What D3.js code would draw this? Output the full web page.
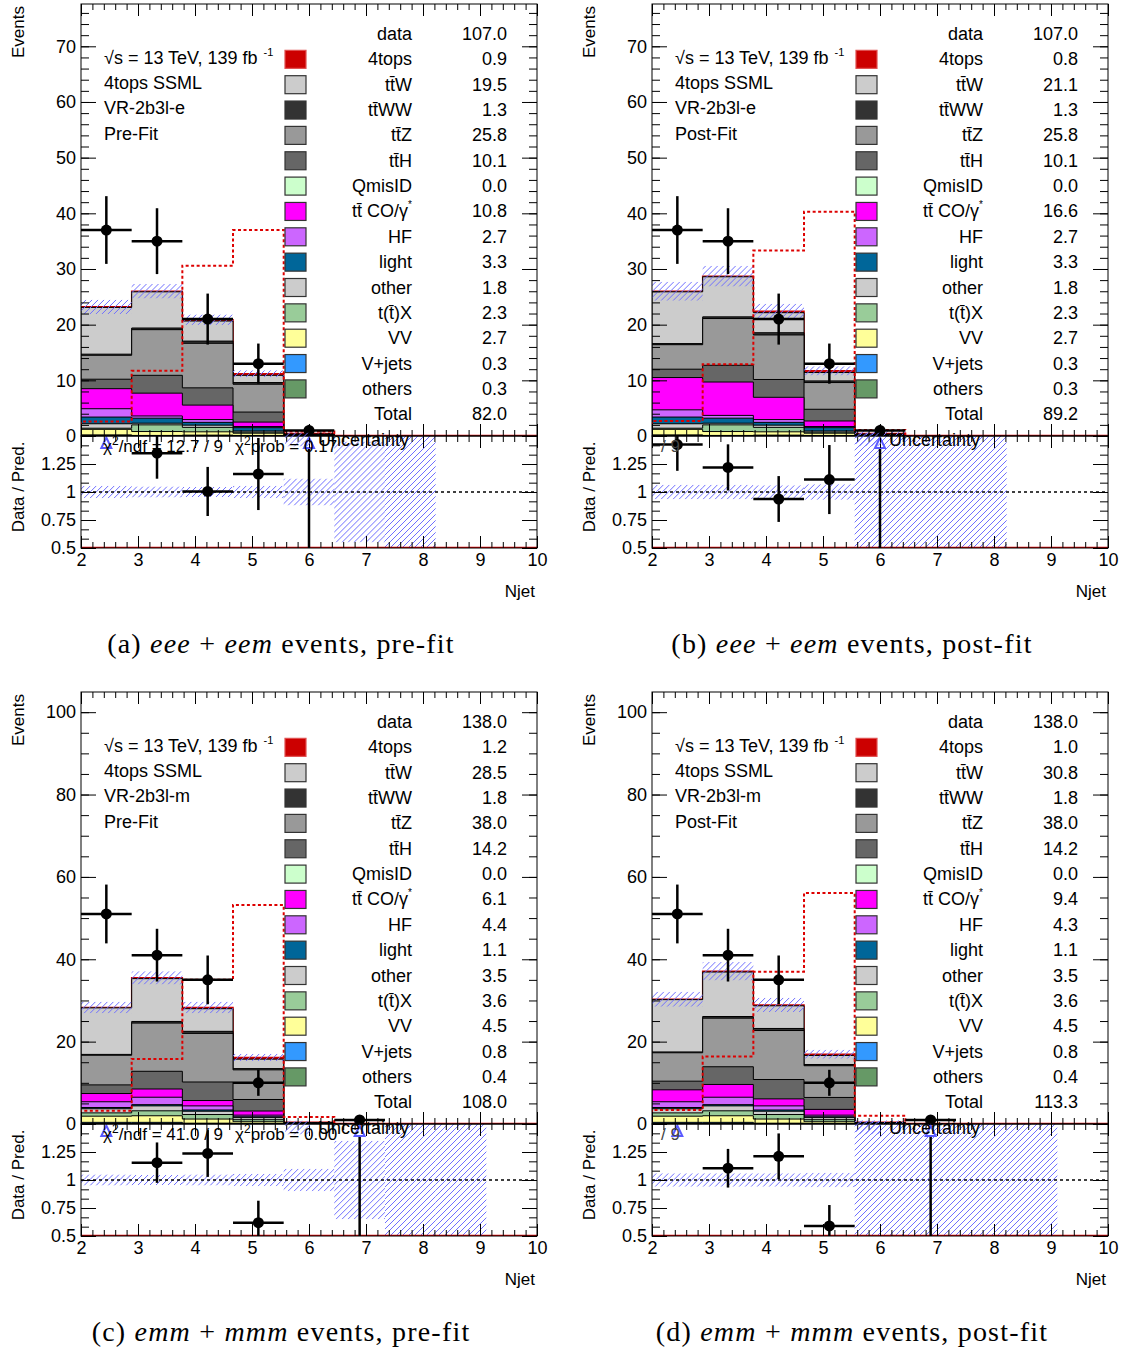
<!DOCTYPE html>
<html>
<head>
<meta charset="utf-8">
<script src="https://cdn.jsdelivr.net/npm/d3@7"></script>
<style>
  body { margin: 0; background: #fff; }
  svg text { font-family: "Liberation Sans", Arial, sans-serif; }
</style>
</head>
<body>
<svg id="fig" width="1127" height="1350"></svg>
<script>
/* Njet binning: 9 bins between 2 and 10 */
const binEdges = [2, 2.889, 3.778, 4.667, 5.556, 6.444, 7.333, 8.222, 9.111, 10];

/* samples, legend order (top of stack first) */
const sampleKeys = ["4tops", "ttW", "ttWW", "ttZ", "ttH", "QmisID", "CO", "HF", "light", "other", "ttX", "VV", "Vjets", "others"];
const sampleLabels = ["4tops", "tt\u0304W", "tt\u0304WW", "tt\u0304Z", "tt\u0304H", "QmisID", "tt\u0304 CO/\u03b3", "HF", "light", "other", "t(t\u0304)X", "VV", "V+jets", "others"];
const sampleColors = {
    "4tops": "#cc0000", ttW: "#cccccc", ttWW: "#333333", ttZ: "#999999", ttH: "#666666",
    QmisID: "#ccffcc", CO: "#ff00ff", HF: "#cc66ff", light: "#006699", other: "#cccccc",
    ttX: "#99cc99", VV: "#ffff99", Vjets: "#3399ff", others: "#669966"
};

/* observed events per bin */
const eeeData = [37, 35, 21, 13, 1, 0, 0, 0, 0];
const mmmData = [51, 41, 35, 10, 0, 1, 0, 0, 0];

/* stacked predictions, rows in sampleKeys order, columns = bins */
const eeePreStack = [
    [0.1, 0.1, 0.25, 0.3, 0.1, 0, 0, 0, 0],
    [8.4, 6.5, 3.6, 1.3, 0.1, 0, 0, 0, 0],
    [0.2, 0.3, 0.4, 0.3, 0.05, 0, 0, 0, 0],
    [4.3, 8.2, 8.0, 5.0, 0.1, 0, 0, 0, 0],
    [1.7, 3.2, 3.1, 1.8, 0.05, 0, 0, 0, 0],
    [0, 0, 0, 0, 0, 0, 0, 0, 0],
    [3.6, 4.1, 2.6, 0.8, 0, 0, 0, 0, 0],
    [1.5, 0.4, 0.5, 0.2, 0, 0, 0, 0, 0],
    [1.2, 0.9, 0.5, 0.6, 0, 0, 0, 0, 0],
    [0.8, 0.3, 0.4, 0.2, 0, 0, 0, 0, 0],
    [0.2, 1.2, 0.8, 0.2, 0, 0, 0, 0, 0],
    [1.0, 0.7, 0.6, 0.4, 0.05, 0, 0, 0, 0],
    [0.1, 0.05, 0.05, 0.05, 0, 0, 0, 0, 0],
    [0.1, 0.05, 0.1, 0.05, 0, 0, 0, 0, 0]
];
const eeePostStack = [
    [0.1, 0.1, 0.25, 0.3, 0.1, 0, 0, 0, 0],
    [9.3, 7.2, 3.6, 1.5, 0.1, 0, 0, 0, 0],
    [0.2, 0.3, 0.4, 0.3, 0.05, 0, 0, 0, 0],
    [4.4, 8.4, 8.0, 4.8, 0.1, 0, 0, 0, 0],
    [1.5, 3.0, 3.2, 2.1, 0.05, 0, 0, 0, 0],
    [0, 0, 0, 0, 0, 0, 0, 0, 0],
    [5.8, 6.0, 4.0, 1.0, 0, 0, 0, 0, 0],
    [1.3, 0.5, 0.5, 0.2, 0, 0, 0, 0, 0],
    [1.2, 0.9, 0.5, 0.6, 0, 0, 0, 0, 0],
    [0.8, 0.3, 0.4, 0.2, 0, 0, 0, 0, 0],
    [0.2, 1.2, 0.8, 0.2, 0, 0, 0, 0, 0],
    [1.0, 0.7, 0.6, 0.4, 0.05, 0, 0, 0, 0],
    [0.1, 0.05, 0.05, 0.05, 0, 0, 0, 0, 0],
    [0.1, 0.05, 0.1, 0.05, 0, 0, 0, 0, 0]
];
const mmmPreStack = [
    [0.1, 0.2, 0.3, 0.4, 0.1, 0.05, 0, 0, 0],
    [11.3, 10.4, 5.5, 2.3, 0.1, 0, 0, 0, 0],
    [0.2, 0.4, 0.5, 0.3, 0.05, 0, 0, 0, 0],
    [7.2, 11.7, 11.8, 7.2, 0.1, 0, 0, 0, 0],
    [2.1, 4.3, 4.5, 2.8, 0.1, 0, 0, 0, 0],
    [0, 0, 0, 0, 0, 0, 0, 0, 0],
    [2.0, 2.0, 1.3, 1.0, 0, 0, 0, 0, 0],
    [1.4, 1.8, 1.0, 0.4, 0, 0, 0, 0, 0],
    [0.3, 0.3, 0.3, 0.2, 0, 0, 0, 0, 0],
    [1.0, 1.2, 0.8, 0.5, 0, 0, 0, 0, 0],
    [0.8, 1.2, 1.1, 0.5, 0, 0, 0, 0, 0],
    [1.5, 1.6, 1.0, 0.4, 0, 0, 0, 0, 0],
    [0.3, 0.3, 0.1, 0.1, 0, 0, 0, 0, 0],
    [0.1, 0.1, 0.1, 0.05, 0, 0, 0, 0, 0]
];
const mmmPostStack = [
    [0.1, 0.2, 0.2, 0.3, 0.1, 0.05, 0, 0, 0],
    [12.7, 10.8, 5.5, 2.2, 0.1, 0, 0, 0, 0],
    [0.2, 0.4, 0.5, 0.3, 0.05, 0, 0, 0, 0],
    [6.9, 11.8, 11.9, 7.7, 0.1, 0, 0, 0, 0],
    [2.1, 4.3, 4.7, 2.9, 0.1, 0, 0, 0, 0],
    [0, 0, 0, 0, 0, 0, 0, 0, 0],
    [2.9, 3.1, 1.7, 1.4, 0, 0, 0, 0, 0],
    [1.4, 1.8, 1.0, 0.4, 0, 0, 0, 0, 0],
    [0.3, 0.3, 0.3, 0.2, 0, 0, 0, 0, 0],
    [1.0, 1.2, 0.8, 0.5, 0, 0, 0, 0, 0],
    [0.8, 1.2, 1.1, 0.5, 0, 0, 0, 0, 0],
    [1.5, 1.6, 1.0, 0.4, 0, 0, 0, 0, 0],
    [0.3, 0.3, 0.1, 0.1, 0, 0, 0, 0, 0],
    [0.1, 0.1, 0.1, 0.05, 0, 0, 0, 0, 0]
];

/* 4tops shape overlay (dashed red) */
const eeePreSignal = [2.6, 11.7, 30.6, 37.0, 0.8, 0, 0, 0, 0];
const eeePostSignal = [2.7, 12.9, 33.3, 40.3, 1.1, 0, 0, 0, 0];
const mmmPreSignal = [3.2, 15.8, 35.0, 53.2, 1.7, 0, 0, 0, 0];
const mmmPostSignal = [3.4, 16.4, 37.0, 56.1, 2.0, 0, 0, 0, 0];

/* relative uncertainty of the prediction per bin (null = no band) */
const eeePreUnc = [0.055, 0.05, 0.045, 0.055, 0.12, 0.45, 1, null, null];
const eeePostUnc = [0.065, 0.065, 0.06, 0.07, 1, 1, 1, null, null];
const mmmPreUnc = [0.05, 0.045, 0.05, 0.055, 0.1, 0.35, 1, 1, null];
const mmmPostUnc = [0.06, 0.06, 0.06, 0.065, 1, 1, 1, 1, null];

/* legend yields: data, samples..., Total */
const eeePreYields = ["107.0", "0.9", "19.5", "1.3", "25.8", "10.1", "0.0", "10.8", "2.7", "3.3", "1.8", "2.3", "2.7", "0.3", "0.3", "82.0"];
const eeePostYields = ["107.0", "0.8", "21.1", "1.3", "25.8", "10.1", "0.0", "16.6", "2.7", "3.3", "1.8", "2.3", "2.7", "0.3", "0.3", "89.2"];
const mmmPreYields = ["138.0", "1.2", "28.5", "1.8", "38.0", "14.2", "0.0", "6.1", "4.4", "1.1", "3.5", "3.6", "4.5", "0.8", "0.4", "108.0"];
const mmmPostYields = ["138.0", "1.0", "30.8", "1.8", "38.0", "14.2", "0.0", "9.4", "4.3", "1.1", "3.5", "3.6", "4.5", "0.8", "0.4", "113.3"];

const njetTicks = [2, 3, 4, 5, 6, 7, 8, 9, 10];
const ratioTicks = [0.5, 0.75, 1, 1.25, 1.5];

const panels = [
    { id: "a", ox: 0, oy: 0, yMax: 77.6, yStep: 10, yMinorStep: 2, region: "VR-2b3l-e", fit: "Pre-Fit",
      stack: eeePreStack, data: eeeData, signal: eeePreSignal, unc: eeePreUnc, yields: eeePreYields,
      chi2: "12.7 / 9", prob: "0.17", cap: ["(a) ", "eee", " + ", "eem", " events, pre-fit"] },
    { id: "b", ox: 571, oy: 0, yMax: 77.6, yStep: 10, yMinorStep: 2, region: "VR-2b3l-e", fit: "Post-Fit",
      stack: eeePostStack, data: eeeData, signal: eeePostSignal, unc: eeePostUnc, yields: eeePostYields,
      chi2: null, prob: null, cap: ["(b) ", "eee", " + ", "eem", " events, post-fit"] },
    { id: "c", ox: 0, oy: 688, yMax: 104.9, yStep: 20, yMinorStep: 5, region: "VR-2b3l-m", fit: "Pre-Fit",
      stack: mmmPreStack, data: mmmData, signal: mmmPreSignal, unc: mmmPreUnc, yields: mmmPreYields,
      chi2: "41.0 / 9", prob: "0.00", cap: ["(c) ", "emm", " + ", "mmm", " events, pre-fit"] },
    { id: "d", ox: 571, oy: 688, yMax: 104.9, yStep: 20, yMinorStep: 5, region: "VR-2b3l-m", fit: "Post-Fit",
      stack: mmmPostStack, data: mmmData, signal: mmmPostSignal, unc: mmmPostUnc, yields: mmmPostYields,
      chi2: null, prob: null, cap: ["(d) ", "emm", " + ", "mmm", " events, post-fit"] }
];

const svg = d3.select("#fig");
const defs = svg.append("defs");

const FONT = 18;
const HATCH_COLOR = "#6f6fff";
let hatchCount = 0;

/* blue "/" hatch drawn as clipped lines */
function hatchRect(parent, x0, y0, w, h) {
    if (w <= 0 || h <= 0) return;
    const id = "hatchClip" + (hatchCount++);
    defs.append("clipPath").attr("id", id)
        .append("rect").attr("x", x0).attr("y", y0).attr("width", w).attr("height", h);
    const start = Math.floor((x0 - h) / 6) * 6;
    parent.append("g").attr("clip-path", "url(#" + id + ")")
        .selectAll("line")
        .data(d3.range(start, x0 + w + 6, 6))
        .join("line")
        .attr("x1", s => s).attr("y1", y0 + h)
        .attr("x2", s => s + h).attr("y2", y0)
        .attr("stroke", HATCH_COLOR).attr("stroke-width", 1);
}

function styleAxis(sel, labels) {
    sel.select(".domain").remove();
    sel.selectAll(".tick line").attr("stroke", "#000").attr("stroke-width", 1);
    sel.selectAll(".tick text")
        .attr("font-size", FONT)
        .attr("font-family", "'Liberation Sans', Arial, sans-serif")
        .attr("fill", "#000");
    if (!labels) sel.selectAll(".tick text").remove();
}

function drawPanel(p) {
    const g = svg.append("g").attr("transform", "translate(" + p.ox + "," + p.oy + ")");
    const x = d3.scaleLinear().domain([2, 10]).range([81, 537]);
    const y = d3.scaleLinear().domain([0, p.yMax]).range([436, 4]);
    const yr = d3.scaleLinear().domain([0.5, 1.5]).range([548, 436]);
    const nBins = binEdges.length - 1;

    defs.append("clipPath").attr("id", "clipU" + p.id)
        .append("rect").attr("x", 81).attr("y", 4).attr("width", 456).attr("height", 432);
    defs.append("clipPath").attr("id", "clipR" + p.id)
        .append("rect").attr("x", 81).attr("y", 436).attr("width", 456).attr("height", 112);

    /* cumulative tops: sample s sits on everything listed after it */
    const cumTop = p.stack.map((row, s) =>
        d3.range(nBins).map(b => d3.sum(p.stack.slice(s), r => r[b])));
    const total = cumTop[0];
    const lastBin = d3.max(d3.range(nBins).filter(b => total[b] > 0));

    function stepArea(vals) {
        let d = "M" + x(binEdges[0]) + "," + y(0);
        for (let b = 0; b <= lastBin; b++) {
            d += "L" + x(binEdges[b]) + "," + y(vals[b]) + "L" + x(binEdges[b + 1]) + "," + y(vals[b]);
        }
        return d + "L" + x(binEdges[lastBin + 1]) + "," + y(0) + "Z";
    }

    /* ---------- upper pad ---------- */
    const up = g.append("g").attr("clip-path", "url(#clipU" + p.id + ")");

    up.append("line")
        .attr("x1", 81).attr("x2", 537).attr("y1", y(0)).attr("y2", y(0))
        .attr("stroke", "#dd0000").attr("stroke-width", 2.5);

    p.stack.forEach((row, s) => {
        if (d3.max(row) === 0) return;
        up.append("path")
            .attr("d", stepArea(cumTop[s]))
            .attr("fill", sampleColors[sampleKeys[s]])
            .attr("stroke", s === 0 ? "#cc0000" : "#000")
            .attr("stroke-width", s === 0 ? 1.5 : 1);
    });

    d3.range(nBins).forEach(b => {
        const u = p.unc[b];
        if (u === null || total[b] === 0) return;
        const hi = total[b] * (1 + u), lo = total[b] * (1 - Math.min(u, 1));
        hatchRect(up, x(binEdges[b]), y(hi), x(binEdges[b + 1]) - x(binEdges[b]), y(lo) - y(hi));
    });

    let sd = "M" + x(binEdges[0]) + "," + y(0);
    p.signal.forEach((v, b) => {
        sd += "L" + x(binEdges[b]) + "," + y(v) + "L" + x(binEdges[b + 1]) + "," + y(v);
    });
    up.append("path").attr("d", sd)
        .attr("fill", "none").attr("stroke", "#dd0000")
        .attr("stroke-width", 2).attr("stroke-dasharray", "3,2.5");

    p.data.forEach((n, b) => {
        if (n === 0) return;
        const cx = x((binEdges[b] + binEdges[b + 1]) / 2), e = Math.sqrt(n);
        up.append("line").attr("x1", x(binEdges[b])).attr("x2", x(binEdges[b + 1]))
            .attr("y1", y(n)).attr("y2", y(n)).attr("stroke", "#000").attr("stroke-width", 2.5);
        up.append("line").attr("x1", cx).attr("x2", cx)
            .attr("y1", y(Math.max(n - e, 0))).attr("y2", y(n + e)).attr("stroke", "#000").attr("stroke-width", 2.5);
        g.append("circle").attr("cx", cx).attr("cy", y(n)).attr("r", 5.5).attr("fill", "#000");
    });

    /* ---------- ratio pad ---------- */
    const rp = g.append("g").attr("clip-path", "url(#clipR" + p.id + ")");

    d3.range(nBins).forEach(b => {
        const u = p.unc[b];
        if (u === null) return;
        const top = Math.max(yr(1 + u), 436), bot = Math.min(yr(1 - u), 548);
        hatchRect(rp, x(binEdges[b]), top, x(binEdges[b + 1]) - x(binEdges[b]), bot - top);
    });

    rp.append("line").attr("x1", 81).attr("x2", 537).attr("y1", yr(1)).attr("y2", yr(1))
        .attr("stroke", "#000").attr("stroke-width", 1.5).attr("stroke-dasharray", "3,3");
    rp.append("line").attr("x1", 81).attr("x2", 537).attr("y1", yr(0.5)).attr("y2", yr(0.5))
        .attr("stroke", "#dd0000").attr("stroke-width", 2.5);

    const ratioMarks = g.append("g");
    p.data.forEach((n, b) => {
        const pred = total[b];
        if (n === 0 || pred === 0) return;
        const cx = x((binEdges[b] + binEdges[b + 1]) / 2);
        const r = n / pred, e = Math.sqrt(n) / pred;
        if (r > 1.5) {
            if (r - e < 0.5) {
                rp.append("line").attr("x1", cx).attr("x2", cx).attr("y1", yr(1.5) + 12).attr("y2", yr(0.5))
                    .attr("stroke", "#000").attr("stroke-width", 2.5);
            }
            ratioMarks.append("path")
                .attr("d", "M" + cx + "," + (yr(1.5) + 1.5) + "L" + (cx - 5) + "," + (yr(1.5) + 12) + "L" + (cx + 5) + "," + (yr(1.5) + 12) + "Z")
                .attr("fill", "#fff").attr("stroke", "#5a5aff").attr("stroke-width", 2);
            return;
        }
        rp.append("line").attr("x1", x(binEdges[b])).attr("x2", x(binEdges[b + 1]))
            .attr("y1", yr(r)).attr("y2", yr(r)).attr("stroke", "#000").attr("stroke-width", 2.5);
        rp.append("line").attr("x1", cx).attr("x2", cx)
            .attr("y1", yr(r - e)).attr("y2", yr(r + e)).attr("stroke", "#000").attr("stroke-width", 2.5);
        ratioMarks.append("circle").attr("cx", cx).attr("cy", yr(r)).attr("r", 5.5).attr("fill", "#000");
    });

    /* ---------- axes ---------- */
    const yMajors = d3.range(0, p.yMax, p.yStep);
    const yMinors = d3.range(0, p.yMax, p.yMinorStep);
    const xMinors = d3.range(2, 10.001, 0.2);
    const rMinors = d3.range(0.5, 1.5001, 0.25 / 3);

    g.append("g").attr("transform", "translate(81,0)")
        .call(d3.axisLeft(y).tickValues(yMajors).tickSize(-15).tickPadding(5).tickFormat(d3.format("d")))
        .call(s => styleAxis(s, true));
    g.append("g").attr("transform", "translate(81,0)")
        .call(d3.axisLeft(y).tickValues(yMinors).tickSize(-8)).call(s => styleAxis(s, false));
    g.append("g").attr("transform", "translate(537,0)")
        .call(d3.axisRight(y).tickValues(yMajors).tickSize(-15)).call(s => styleAxis(s, false));
    g.append("g").attr("transform", "translate(537,0)")
        .call(d3.axisRight(y).tickValues(yMinors).tickSize(-8)).call(s => styleAxis(s, false));

    [[4, "top"], [436, "bottom"], [436, "top"], [548, "bottom"]].forEach(([yy, side], k) => {
        const mk = side === "top" ? d3.axisTop : d3.axisBottom;
        g.append("g").attr("transform", "translate(0," + yy + ")")
            .call(mk(x).tickValues(njetTicks).tickSize(-12).tickPadding(5).tickFormat(d3.format("d")))
            .call(s => styleAxis(s, k === 3));
        g.append("g").attr("transform", "translate(0," + yy + ")")
            .call(mk(x).tickValues(xMinors).tickSize(-6)).call(s => styleAxis(s, false));
    });

    g.append("g").attr("transform", "translate(81,0)")
        .call(d3.axisLeft(yr).tickValues(ratioTicks).tickSize(-15).tickPadding(5)
            .tickFormat(v => v === 1.5 ? "" : String(v)))
        .call(s => styleAxis(s, true));
    g.append("g").attr("transform", "translate(81,0)")
        .call(d3.axisLeft(yr).tickValues(rMinors).tickSize(-8)).call(s => styleAxis(s, false));
    g.append("g").attr("transform", "translate(537,0)")
        .call(d3.axisRight(yr).tickValues(ratioTicks).tickSize(-15)).call(s => styleAxis(s, false));
    g.append("g").attr("transform", "translate(537,0)")
        .call(d3.axisRight(yr).tickValues(rMinors).tickSize(-8)).call(s => styleAxis(s, false));

    g.append("rect").attr("x", 81).attr("y", 4).attr("width", 456).attr("height", 432)
        .attr("fill", "none").attr("stroke", "#000").attr("stroke-width", 1);
    g.append("rect").attr("x", 81).attr("y", 436).attr("width", 456).attr("height", 112)
        .attr("fill", "none").attr("stroke", "#000").attr("stroke-width", 1);

    /* axis titles */
    g.append("text").attr("transform", "translate(24,6) rotate(-90)")
        .attr("text-anchor", "end").attr("font-size", 17).text("Events");
    g.append("text").attr("transform", "translate(24,487) rotate(-90)")
        .attr("text-anchor", "middle").attr("font-size", 17).text("Data / Pred.");
    g.append("text").attr("x", 535).attr("y", 597)
        .attr("text-anchor", "end").attr("font-size", 17).text("Njet");

    /* ---------- labels ---------- */
    const lumi = g.append("text").attr("x", 104).attr("y", 64).attr("font-size", FONT);
    lumi.append("tspan").text("\u221As = 13 TeV, 139 fb");
    lumi.append("tspan").attr("dx", 6).attr("dy", -8).attr("font-size", 11).text("-1");
    [["4tops SSML", 89], [p.region, 114], [p.fit, 140]].forEach(([t, yy]) => {
        g.append("text").attr("x", 104).attr("y", yy).attr("font-size", FONT).text(t);
    });

    /* ---------- legend ---------- */
    const rowY = i => 40 + i * 25.35;
    const leg = g.append("g").attr("font-size", FONT);
    leg.append("text").attr("x", 412).attr("y", rowY(0)).attr("text-anchor", "end").text("data");
    leg.append("text").attr("x", 507).attr("y", rowY(0)).attr("text-anchor", "end").text(p.yields[0]);
    sampleKeys.forEach((k, i) => {
        const yy = rowY(i + 1);
        leg.append("rect").attr("x", 285).attr("y", yy - 15).attr("width", 21).attr("height", 18)
            .attr("fill", sampleColors[k])
            .attr("stroke", k === "4tops" ? "#e05050" : "#333").attr("stroke-width", 1.2);
        const lab = leg.append("text").attr("x", 412).attr("y", yy).attr("text-anchor", "end");
        lab.append("tspan").text(sampleLabels[i]);
        if (k === "CO") lab.append("tspan").attr("dy", -9).attr("font-size", 10).text("*");
        leg.append("text").attr("x", 507).attr("y", yy).attr("text-anchor", "end").text(p.yields[i + 1]);
    });
    leg.append("text").attr("x", 412).attr("y", rowY(15)).attr("text-anchor", "end").text("Total");
    leg.append("text").attr("x", 507).attr("y", rowY(15)).attr("text-anchor", "end").text(p.yields[15]);
    hatchRect(leg, 285, rowY(16) - 13, 25, 14);
    leg.append("text").attr("x", 318).attr("y", rowY(16)).text("Uncertainty");

    /* chi2 */
    const chi = g.append("g").attr("font-size", 17);
    if (p.chi2) {
        const t1 = chi.append("text").attr("x", 103).attr("y", 452);
        t1.append("tspan").text("\u03c7");
        t1.append("tspan").attr("dy", -7).attr("font-size", 12).text("2");
        t1.append("tspan").attr("dy", 7).text("/ndf = " + p.chi2);
        const t2 = chi.append("text").attr("x", 235).attr("y", 452);
        t2.append("tspan").text("\u03c7");
        t2.append("tspan").attr("dy", -7).attr("font-size", 12).text("2");
        t2.append("tspan").attr("dy", 7).text("prob = " + p.prob);
    } else {
        chi.append("text").attr("x", 90).attr("y", 452).attr("fill", "#444").text("/ 9");
    }

    /* caption */
    const cap = g.append("text").attr("x", 281).attr("y", 653).attr("text-anchor", "middle")
        .attr("font-size", 28).attr("letter-spacing", 1.2)
        .style("font-family", "'Liberation Serif', 'Times New Roman', serif");
    p.cap.forEach((t, i) => {
        cap.append("tspan").attr("font-style", (i === 1 || i === 3) ? "italic" : "normal").text(t);
    });
}

panels.forEach(drawPanel);
</script>
</body>
</html>
